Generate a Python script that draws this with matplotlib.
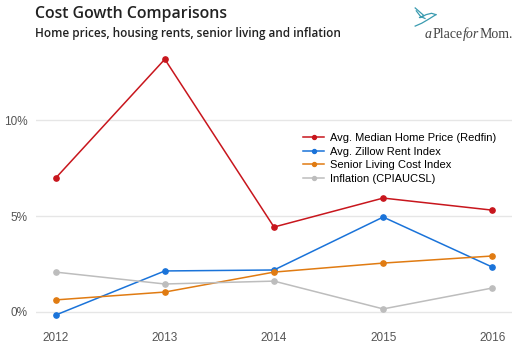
import matplotlib.pyplot as plt
from matplotlib.ticker import FuncFormatter

years = [2012, 2013, 2014, 2015, 2016]
home_price = [6.98, 13.18, 4.43, 5.94, 5.31]
zillow_rent = [-0.16, 2.14, 2.19, 4.95, 2.34]
senior_living = [0.63, 1.04, 2.08, 2.55, 2.92]
inflation = [2.08, 1.46, 1.61, 0.16, 1.25]

series = [
    ("Avg. Median Home Price (Redfin)", home_price, "#c8161d"),
    ("Avg. Zillow Rent Index", zillow_rent, "#1a73d9"),
    ("Senior Living Cost Index", senior_living, "#e07b12"),
    ("Inflation (CPIAUCSL)", inflation, "#bdbdbd"),
]

fig = plt.figure(figsize=(5.22, 3.48), dpi=100)
ax = fig.add_axes([36 / 522, 0.0704, 476 / 522, 0.7826])

for label, values, color in series:
    ax.plot(years, values, color=color, lw=1.1, marker="o", ms=3.8, label=label)

ax.set_xlim(2011.82, 2016.18)
ax.set_ylim(-0.6, 13.6)
ax.set_xticks(years)
ax.set_yticks([0, 5, 10])
ax.yaxis.set_major_formatter(FuncFormatter(lambda v, p: f"{v:.0f}%"))
ax.grid(axis="y", color="#e6e6e6", lw=1)
ax.set_axisbelow(True)
for s in ax.spines.values():
    s.set_visible(False)
ax.tick_params(length=0, colors="#555555", labelsize=8.5, pad=6)
for t in ax.get_xticklabels() + ax.get_yticklabels():
    t.set_fontfamily("Liberation Sans")

leg = ax.legend(loc="upper left", bbox_to_anchor=(0.552, 0.716), frameon=False,
                prop={"family": "Liberation Sans", "size": 8.0},
                handlelength=1.9, handletextpad=0.55, labelspacing=0.32,
                markerscale=0.75, borderaxespad=0)

fig.text(35 / 522, 1 - 14 / 348, "Cost Gowth Comparisons", fontsize=11.4,
         family="Open Sans", fontweight="semibold", color="#222222", va="center")
fig.text(35 / 522, 1 - 34 / 348, "Home prices, housing rents, senior living and inflation",
         fontsize=8.5, family="Open Sans", fontweight="semibold", color="#222222", va="center")

# logo: text pieces placed one after the other
fig.canvas.draw()
r = fig.canvas.get_renderer()
x = 425
pieces = [("a", "italic"), ("Place", "normal"), ("for", "italic"), ("Mom.", "normal")]
for txt, st in pieces:
    t = fig.text(x / 522, 1 - 38 / 348, txt, fontsize=10, family="Liberation Serif",
                 style=st, color="#444444", va="baseline")
    x = t.get_window_extent(r).x1 + 0.5
bird = fig.add_axes([413 / 522, 1 - 28 / 348, 24 / 522, 21 / 348])
teal = "#3a9bb0"
bird.plot([0.05, 0.45, 0.25], [1.0, 0.6, 0.5], color=teal, lw=0.9)
bird.plot([0.1, 0.3, 0.5], [0.85, 0.55, 0.45], color=teal, lw=0.9)
bird.plot([0.05, 0.35, 0.65, 1.0], [0.05, 0.2, 0.4, 0.65], color=teal, lw=0.9)
bird.plot([0.3, 0.55, 0.8, 1.0], [0.5, 0.65, 0.72, 0.65], color=teal, lw=0.9)
bird.set_xlim(-0.05, 1.05)
bird.set_ylim(-0.05, 1.05)
bird.axis("off")

fig.savefig("out.png", dpi=100)
